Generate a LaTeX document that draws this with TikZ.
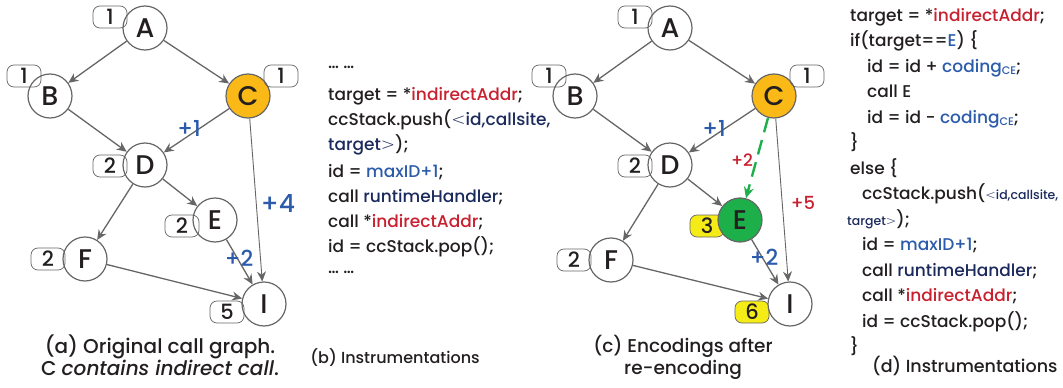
\documentclass[tikz,border=0pt]{standalone}
\usepackage{fontspec}
\setmainfont{Poppins}[UprightFont=* Medium, ItalicFont=* Medium Italic]
\newfontfamily\relfont{DejaVu Sans ExtraLight}
\usetikzlibrary{arrows.meta}
\definecolor{ink}{HTML}{231F20}
\definecolor{navy}{HTML}{1B2A5C}
\definecolor{codeblue}{HTML}{2B5BAA}
\definecolor{codered}{HTML}{C8202F}
\definecolor{callorange}{HTML}{FBB917}
\definecolor{callgreen}{HTML}{1DAF4A}
\definecolor{tagyellow}{HTML}{F5EC17}
\definecolor{edgegray}{HTML}{666666}
\tikzset{
  fn/.style={circle, draw=edgegray, line width=1.2pt, fill=white, minimum size=44pt,
    inner sep=0pt, font=\fontsize{27}{27}\selectfont, text=ink},
  tag/.style={rounded corners=7pt, draw=edgegray, line width=0.7pt, minimum width=34pt,
    minimum height=22pt, inner sep=0pt, font=\fontsize{21}{21}\selectfont, text=ink},
  calledge/.style={draw=edgegray, line width=1.3pt, -{Stealth[length=10pt,width=9pt]}},
  thinedge/.style={draw=edgegray, line width=0.9pt, -{Stealth[length=10pt,width=9pt]}},
  greenedge/.style={draw=callgreen, line width=2.4pt, dash pattern=on 15pt off 8pt,
    -{Stealth[length=11pt,width=10pt]}},
  wlabel/.style={font=\fontsize{22}{22}\selectfont, text=codeblue, inner sep=0pt},
  rlabel/.style={font=\fontsize{17}{17}\selectfont, text=codered, inner sep=0pt},
  code/.style={anchor=base west, inner sep=0pt, font=\fontsize{17}{17}\selectfont, text=ink},
  caption/.style={anchor=base, inner sep=0pt, text=ink},
}
\newcommand{\red}[1]{\textcolor{codered}{#1}}
\newcommand{\nv}[1]{\textcolor{navy}{#1}}
\newcommand{\bl}[1]{\textcolor{codeblue}{#1}}
\newcommand{\smallnv}[1]{{\fontsize{12.5}{12.5}\selectfont\textcolor{navy}{#1}}}
\newcommand{\sub}[1]{{\fontsize{11}{11}\selectfont\raisebox{-2pt}{#1}}}
% thin, wide angle brackets for the stack tuple
\newcommand{\opentup}{{\relfont<}}
\newcommand{\closetup}{{\relfont>}}
\begin{document}
\begin{tikzpicture}[x=1pt, y=-1pt]
\useasboundingbox (0,0) rectangle (1063,388);

% ---------- (a) original call graph ----------
\node[fn] (aA) at (145,28) {A};
\node[fn] (aB) at (50,96) {B};
\node[fn, fill=callorange] (aC) at (248,96) {C};
\node[fn] (aD) at (145,165) {D};
\node[fn] (aE) at (215,220) {E};
\node[fn] (aF) at (85,259) {F};
\node[fn] (aI) at (264,304) {I};

\node[tag] (taA) at (110,17) {1};
\node[tag] (taB) at (24,76) {1};
\node[tag] (taC) at (281,76) {1};
\node[tag] (taD) at (110,166) {2};
\node[tag] (taE) at (182,226) {2};
\node[tag] (taF) at (48,259) {2};
\node[tag] (taI) at (227,312) {5};

\draw[calledge] (aA) -- (aB);
\draw[calledge] (aA) -- (aC);
\draw[calledge] (aB) -- (aD);
\draw[calledge] (aC) -- (aD);
\draw[calledge] (aD) -- (aE);
\draw[calledge] (aD) -- (aF);
\draw[calledge] (aE) -- (aI);
\draw[calledge] (aF) -- (aI);
\draw[thinedge] (aC) -- (aI);

\node[wlabel] (la1) at (189,128) {+1};
\node[wlabel, font=\fontsize{25}{25}\selectfont] (la4) at (278,203) {+4};
\node[wlabel] (la2) at (239,258) {+2};

\node[caption, font=\fontsize{20}{20}\selectfont] (capa1) at (160,353) {(a) Original call graph.};
\node[caption, font=\fontsize{20}{20}\selectfont] (capa2) at (160,375) {C \textit{contains indirect call}.};

% ---------- (b) instrumentation of the indirect call ----------
\node[code] (b0) at (328,68) {\dots\ \dots};
\node[code] (b1) at (328,100) {target = *\red{indirectAddr};};
\node[code] (b2) at (328,125) {ccStack.push(\nv{\opentup id,callsite,}};
\node[code] (b3) at (328,150) {\nv{target\closetup});};
\node[code] (b4) at (328,177) {id = \bl{maxID+1};};
\node[code] (b5) at (328,202) {call \nv{runtimeHandler};};
\node[code] (b6) at (328,227) {call *\red{indirectAddr};};
\node[code] (b7) at (328,252) {id = ccStack.pop();};
\node[code] (b8) at (328,273) {\dots\ \dots};
\node[caption, font=\fontsize{16}{16}\selectfont] (capb) at (395,363) {(b) Instrumentations};

% ---------- (c) encodings after re-encoding ----------
\node[tag, fill=tagyellow] (tcE) at (707,226) {3};
\node[tag, fill=tagyellow] (tcI) at (752,312) {6};

\node[fn] (cA) at (670,28) {A};
\node[fn] (cB) at (575,96) {B};
\node[fn, fill=callorange] (cC) at (774,96) {C};
\node[fn] (cD) at (670,165) {D};
\node[fn, fill=callgreen] (cE) at (740,220) {E};
\node[fn] (cF) at (611,260) {F};
\node[fn] (cI) at (790,304) {I};

\node[tag] (tcA) at (635,17) {1};
\node[tag] (tcB) at (549,76) {1};
\node[tag] (tcC) at (807,76) {1};
\node[tag] (tcD) at (635,166) {2};
\node[tag] (tcF) at (574,260) {2};

\draw[calledge] (cA) -- (cB);
\draw[calledge] (cA) -- (cC);
\draw[calledge] (cB) -- (cD);
\draw[calledge] (cC) -- (cD);
\draw[calledge] (cD) -- (cE);
\draw[calledge] (cD) -- (cF);
\draw[calledge] (cE) -- (cI);
\draw[calledge] (cF) -- (cI);
\draw[thinedge] (cC) -- (cI);
\draw[greenedge] (cC) -- (cE);

\node[wlabel] (lc1) at (714,128) {+1};
\node[rlabel] (lc2) at (742,160) {+2};
\node[rlabel, font=\fontsize{18}{18}\selectfont] (lc5) at (803,203) {+5};
\node[wlabel] (lc3) at (764,257) {+2};

\node[caption, font=\fontsize{18.5}{18.5}\selectfont] (capc1) at (683,352) {(c) Encodings after};
\node[caption, font=\fontsize{18.5}{18.5}\selectfont] (capc2) at (683,374) {re-encoding};

% ---------- (d) instrumentation with the inlined target ----------
\node[code] (d1) at (850,21) {target = *\red{indirectAddr};};
\node[code] (d2) at (850,46.5) {if(target==\bl{E}) \{};
\node[code] (d3) at (867,72) {id = id + \bl{coding\sub{CE}};};
\node[code] (d4) at (867,97.5) {call E};
\node[code] (d5) at (867,123) {id = id - \bl{coding\sub{CE}};};
\node[code] (d6) at (850,148.5) {\}};
\node[code] (d7) at (850,174) {else \{};
\node[code] (d8) at (862,199.5) {ccStack.push(\smallnv{\opentup id,callsite,}};
\node[code] (d9) at (847,225) {\smallnv{target\closetup});};
\node[code] (d10) at (862,250.5) {id = \bl{maxID+1};};
\node[code] (d11) at (862,276) {call \nv{runtimeHandler};};
\node[code] (d12) at (862,301.5) {call *\red{indirectAddr};};
\node[code] (d13) at (862,327) {id = ccStack.pop();};
\node[code] (d14) at (850,352.5) {\}};
\node[caption, anchor=base west, font=\fontsize{17.5}{17.5}\selectfont] (capd) at (872,372) {(d) Instrumentations};
\end{tikzpicture}
\end{document}
